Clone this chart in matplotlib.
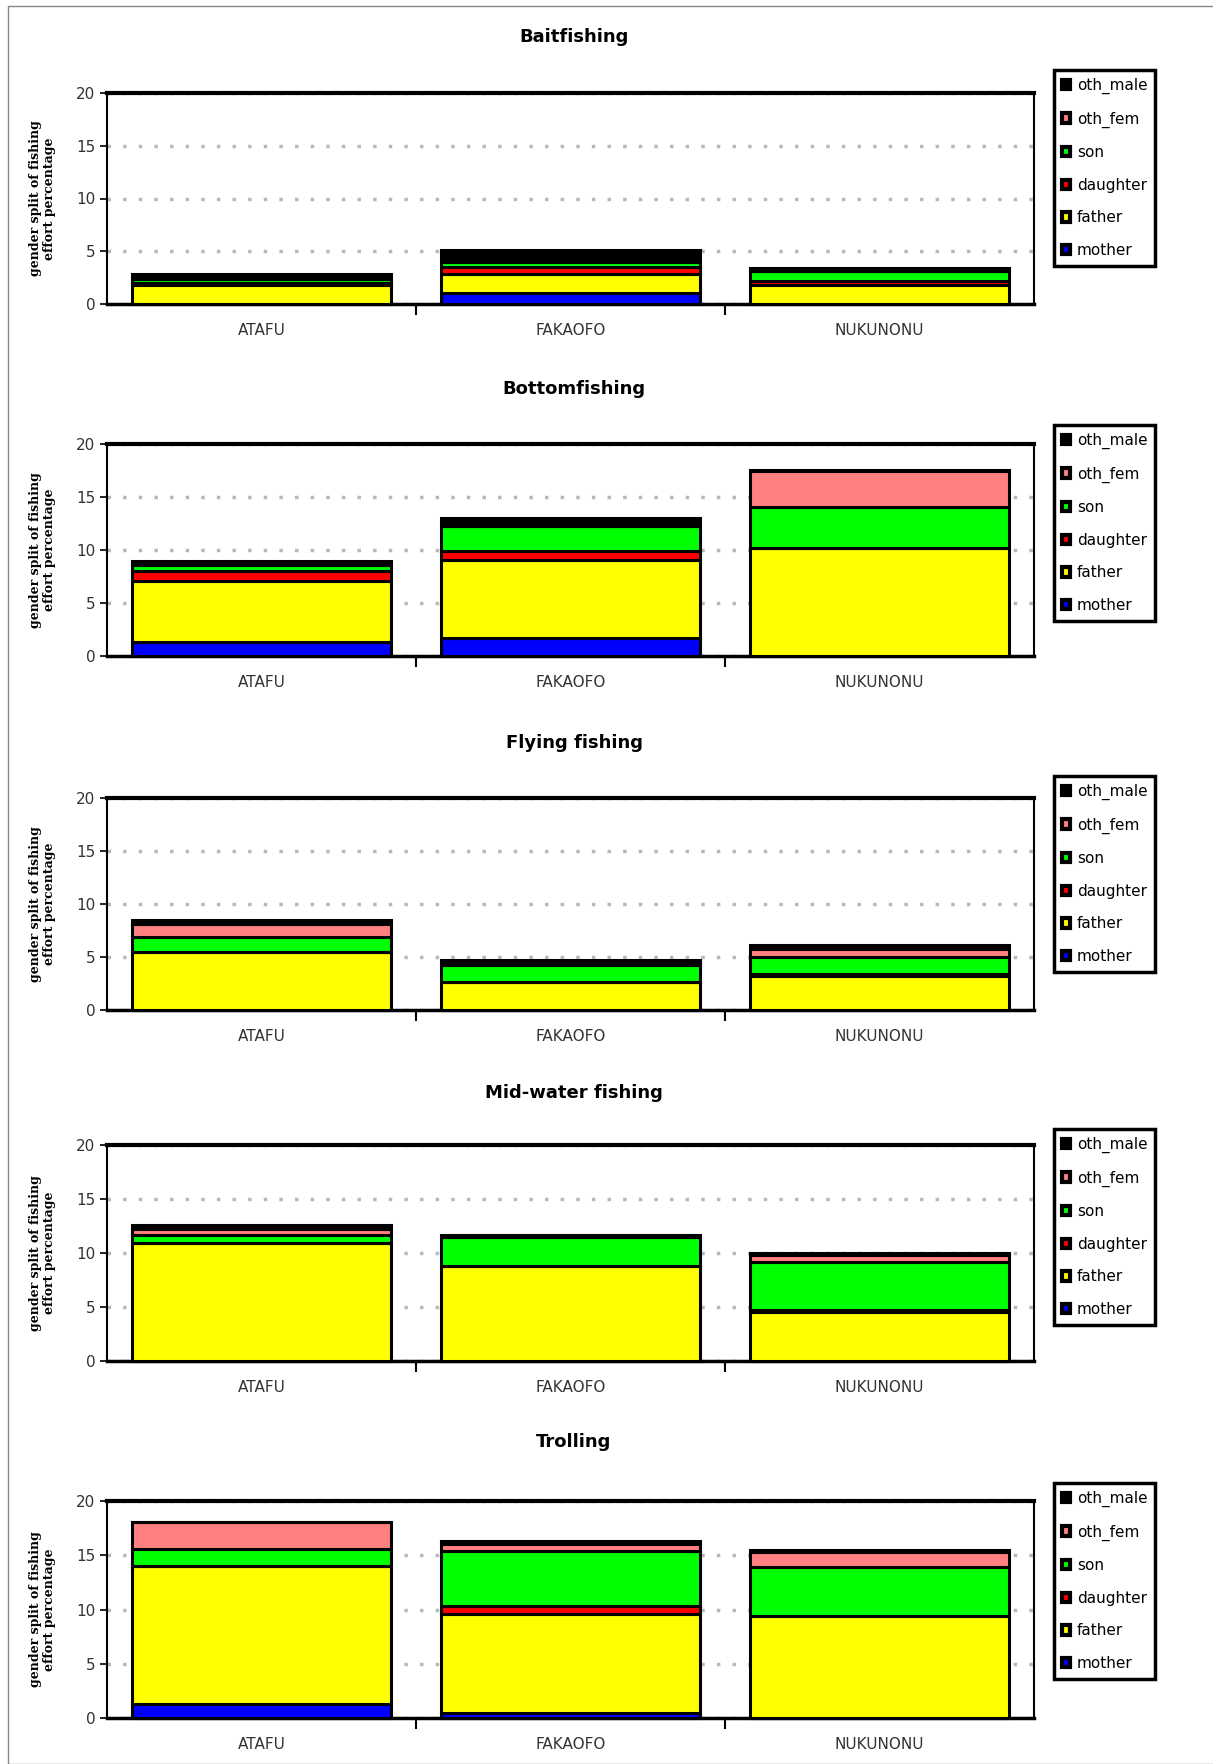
import numpy as np
import matplotlib.pyplot as plt
from matplotlib.patches import Rectangle, Patch

islands = ["ATAFU", "FAKAOFO", "NUKUNONU"]
series = ["mother", "father", "daughter", "son", "oth_fem", "oth_male"]
colours = ["#0000ff", "#ffff00", "#ff0000", "#00ff00", "#ff8080", "#000000"]

titles = ["Baitfishing", "Bottomfishing", "Flying fishing", "Mid-water fishing", "Trolling"]

# rows follow series order: mother, father, daughter, son, oth_fem, oth_male
baitfishing = [[0.0, 1.0, 0.0],
               [1.8, 1.8, 1.8],
               [0.2, 0.7, 0.4],
               [0.4, 0.5, 0.9],
               [0.0, 0.0, 0.0],
               [0.4, 1.1, 0.3]]
bottomfishing = [[1.3, 1.7, 0.0],
                 [5.8, 7.4, 10.2],
                 [0.9, 0.8, 0.0],
                 [0.6, 2.4, 3.9],
                 [0.0, 0.0, 3.4],
                 [0.4, 0.7, 0.0]]
flying = [[0.0, 0.0, 0.0],
          [5.5, 2.6, 3.2],
          [0.0, 0.0, 0.2],
          [1.4, 1.6, 1.6],
          [1.2, 0.0, 0.8],
          [0.4, 0.55, 0.3]]
midwater = [[0.0, 0.0, 0.0],
            [10.9, 8.8, 4.5],
            [0.0, 0.0, 0.2],
            [0.8, 2.7, 4.5],
            [0.5, 0.0, 0.6],
            [0.4, 0.15, 0.2]]
trolling = [[1.3, 0.5, 0.0],
            [12.7, 9.1, 9.4],
            [0.0, 0.7, 0.0],
            [1.6, 5.1, 4.5],
            [2.5, 0.6, 1.4],
            [0.0, 0.35, 0.15]]

panels = [baitfishing, bottomfishing, flying, midwater, trolling]

W, H = 1213, 1764
fig = plt.figure(figsize=(W / 100, H / 100), dpi=100)
fig.patches.append(Rectangle((8 / W, 0), 1.2, 1 - 6 / H, transform=fig.transFigure,
                             fill=False, edgecolor="#888888", linewidth=1))

# pixel boxes of each panel: top, bottom of plot area, title y, legend top
axes_px = [(93, 304, 37, 70), (444, 656, 389, 425), (798, 1010, 743, 776),
           (1145, 1361, 1093, 1129), (1501, 1718, 1442, 1483)]
left_px, right_px = 107, 1034

x = np.arange(len(islands))
for k in range(5):
    top, bot, ty, lt = axes_px[k]
    ax = fig.add_axes([left_px / W, 1 - bot / H, (right_px - left_px) / W, (bot - top) / H])
    data = panels[k]
    bottom = np.zeros(len(islands))
    handles = []
    for i in range(len(series)):
        vals = np.array(data[i])
        ax.bar(x, vals, 0.84, bottom=bottom, color=colours[i], edgecolor="black",
               linewidth=2.2, zorder=3, clip_on=False)
        bottom = bottom + vals
        handles.append(Patch(facecolor=colours[i], edgecolor="black", linewidth=3))
    ax.set_xlim(-0.5, 2.5)
    ax.set_ylim(0, 20)
    ax.set_yticks([0, 5, 10, 15, 20])
    ax.set_xticks(x)
    ax.set_xticklabels(islands, fontsize=11, color="#333333")
    ax.set_xticks([0.5, 1.5], minor=True)
    ax.tick_params(axis="x", which="major", length=0, pad=14)
    ax.tick_params(axis="x", which="minor", length=8, width=1.5, direction="out")
    ax.tick_params(axis="y", length=5, width=1.2, direction="out", labelsize=11,
                   labelcolor="#333333")
    ax.grid(axis="y", color="#b8b8b8", linestyle=(0, (1, 3.5)), linewidth=2.5, zorder=0)
    ax.spines["top"].set_linewidth(3)
    ax.spines["bottom"].set_linewidth(2.5)
    ax.spines["left"].set_linewidth(1.5)
    ax.spines["right"].set_linewidth(1.5)
    ax.set_ylabel("gender split of fishing\neffort percentage", family="DejaVu Serif",
                  fontweight="bold", fontsize=9, labelpad=14)
    fig.text(574 / W, 1 - ty / H, titles[k], ha="center", va="center",
             fontsize=13, fontweight="bold")
    leg = ax.legend(handles[::-1], series[::-1], loc="upper left",
                    bbox_to_anchor=(1054 / W, 1 - lt / H), bbox_transform=fig.transFigure,
                    fontsize=11, labelspacing=1.15, handlelength=0.55, handleheight=0.55,
                    handletextpad=0.45, borderpad=0.5, borderaxespad=0,
                    fancybox=False, framealpha=1)
    leg.get_frame().set_edgecolor("black")
    leg.get_frame().set_linewidth(2.5)

fig.savefig("out.png", dpi=100)
